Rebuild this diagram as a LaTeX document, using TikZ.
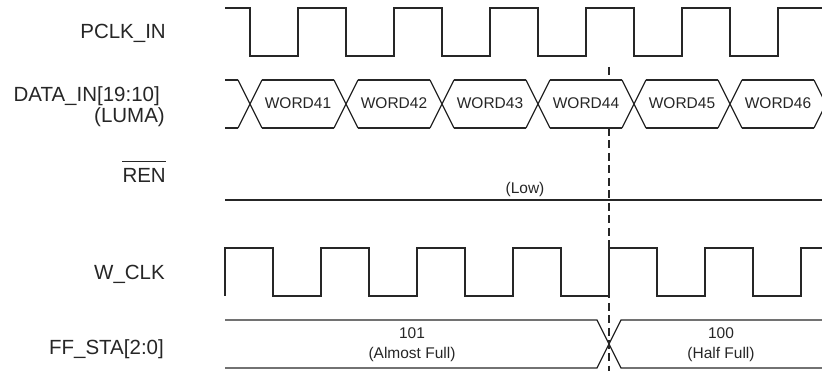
\documentclass[tikz,border=0pt]{standalone}
\usepackage{fontspec}
\setmainfont{Liberation Sans}
\definecolor{ink}{HTML}{262626}
\begin{document}
\begin{tikzpicture}[x=1pt,y=-1pt,
  sig/.style={draw=ink,line width=1.2pt,line join=miter},
  dashline/.style={draw=ink,line width=1.1pt,dash pattern=on 8pt off 4.5pt},
  lbl/.style={anchor=base east,inner sep=0pt,text=ink,font=\fontsize{20.5}{21}\selectfont},
  small/.style={inner sep=0pt,text=ink,font=\fontsize{15.5}{20}\selectfont}]
\useasboundingbox (0,0) rectangle (822,371);
\clip (0,0) rectangle (822,371);

% labels
\node[lbl] (lpclk) at (166,39) {PCLK\_IN};
\node[lbl] (ldata) at (160,102) {DATA\_IN[19:10]};
\node[lbl] (lluma) at (165,123) {(LUMA)};
\node[lbl] (lren) at (166,183) {REN};
\draw[draw=ink,line width=1.2pt] ([yshift=7pt]lren.north west) -- ([yshift=7pt]lren.north east);
\node[lbl] (lwclk) at (165,280) {W\_CLK};
\node[lbl] (lff) at (164,355) {FF\_STA[2:0]};

% dashed marker line
\coordinate (dtop) at (609,67);
\coordinate (dA) at (609,80);
\coordinate (dB) at (609,128);
\coordinate (dbot) at (609,372);
\draw[dashline] (dtop) -- (dA);
\draw[dashline] (dB) -- (dbot);

% PCLK_IN
\draw[sig] (225,8) -- (250,8)
  \foreach \k in {0,...,5} { -- ({250+96*\k},56) -- ({298+96*\k},56) -- ({298+96*\k},8) -- ({346+96*\k},8) }
  -- (822,8);

% DATA_IN
\draw[sig] (225,80) -- (238,80) (225,128) -- (238,128);
\foreach \c in {250,346,442,538,634,730,826} {
  \draw[sig] ({\c-12},80) -- ({\c+12},128) ({\c-12},128) -- ({\c+12},80);
}
\foreach \c in {250,346,442,538,634,730} {
  \draw[sig] ({\c+12},80) -- ({\c+84},80) ({\c+12},128) -- ({\c+84},128);
}
\node[small] (w41) at (298,103) {WORD41};
\node[small] (w42) at (394,103) {WORD42};
\node[small] (w43) at (490,103) {WORD43};
\node[small] (w44) at (586,103) {WORD44};
\node[small] (w45) at (682,103) {WORD45};
\node[small] (w46) at (778,103) {WORD46};

% REN
\draw[sig] (225,200) -- (822,200);
\node[small,anchor=base] (low) at (525,194) {(Low)};

% W_CLK
\draw[sig] (225,296) -- (225,248)
  \foreach \k in {0,...,5} { -- ({273+96*\k},248) -- ({273+96*\k},296) -- ({321+96*\k},296) -- ({321+96*\k},248) }
  -- (822,248);

% FF_STA
\draw[sig] (225,320) -- (597,320) -- (621,368) -- (822,368);
\draw[sig] (225,368) -- (597,368) -- (621,320) -- (822,320);
\node[small,anchor=base] (s101) at (412,338.5) {101};
\node[small,anchor=base] (s101b) at (412,358.5) {(Almost Full)};
\node[small,anchor=base] (s100) at (721,338.5) {100};
\node[small,anchor=base] (s100b) at (721,358.5) {(Half Full)};
\end{tikzpicture}
\end{document}
